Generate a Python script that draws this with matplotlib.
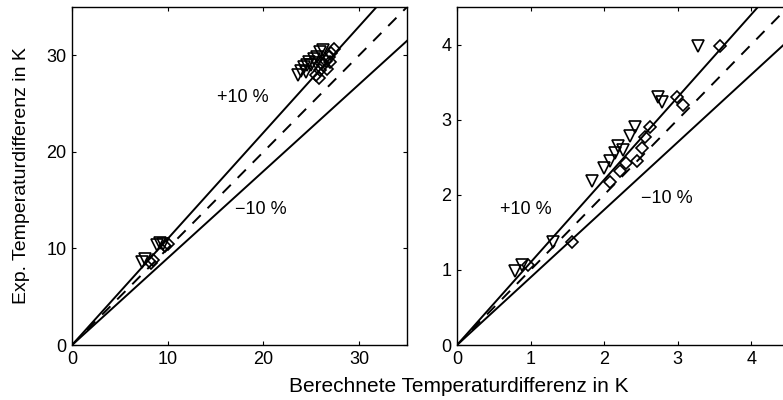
import matplotlib
matplotlib.use("Agg")
import matplotlib.pyplot as plt
import numpy as np

plt.rcParams['font.family'] = ['Liberation Sans', 'DejaVu Sans']

# left panel (large temperature differences)
tri_calc_l = [7.3, 7.6, 8.9, 9.2, 9.5,
              23.6, 23.9, 24.2, 24.4, 24.5, 24.8, 25.0, 25.3, 25.5, 25.6, 25.9, 26.2]
tri_exp_l = [8.6, 8.9, 10.4, 10.6, 10.5,
             28.0, 28.4, 28.8, 28.3, 29.0, 29.3, 29.0, 29.6, 29.2, 29.8, 30.3, 30.5]
dia_calc_l = [8.2, 8.5, 9.7, 10.0,
              25.5, 25.8, 25.9, 26.0, 26.2, 26.5, 26.6, 26.8, 27.0, 27.1, 27.4]
dia_exp_l = [8.5, 8.8, 10.3, 10.5,
             28.0, 27.6, 28.5, 29.2, 29.0, 29.4, 28.6, 29.8, 29.3, 30.2, 30.6]

# right panel (small temperature differences)
tri_calc_r = [0.79, 0.88, 1.31, 1.84, 2.0, 2.08, 2.15, 2.19, 2.25, 2.35, 2.42,
              2.73, 2.79, 3.28]
tri_exp_r = [0.98, 1.07, 1.37, 2.18, 2.35, 2.45, 2.55, 2.65, 2.6, 2.78, 2.9,
             3.3, 3.24, 3.98]
dia_calc_r = [0.97, 1.56, 2.08, 2.22, 2.3, 2.45, 2.52, 2.56, 2.63, 2.99, 3.07, 3.58]
dia_exp_r = [1.07, 1.37, 2.17, 2.32, 2.42, 2.45, 2.62, 2.77, 2.9, 3.3, 3.19, 3.98]

fig = plt.figure(figsize=(7.83, 4.0), dpi=100)
ax1 = fig.add_axes([0.092, 0.1375, 0.4278, 0.845])
ax2 = fig.add_axes([0.5837, 0.1375, 0.4227, 0.845])


def draw(ax, lim, tc, te, dc, de):
    xx = np.array([0, lim * 1.2])
    ax.plot(xx, 1.1 * xx, color='k', lw=1.4)
    ax.plot(xx, 0.9 * xx, color='k', lw=1.4)
    ax.plot(xx, xx, color='k', lw=1.4, ls=(0, (6, 5)))
    ax.plot(tc, te, ls='none', marker='v', ms=9, mfc='none', mec='k', mew=1.2)
    ax.plot(dc, de, ls='none', marker='D', ms=6.5, mfc='none', mec='k', mew=1.2)
    ax.set_xlim(0, lim)
    ax.set_ylim(0, lim)
    ax.tick_params(direction='in', length=3, width=0.8, top=True, right=True,
                   labelsize=13, pad=4)
    for s in ax.spines.values():
        s.set_linewidth(1.0)


draw(ax1, 35, tri_calc_l, tri_exp_l, dia_calc_l, dia_exp_l)
ax1.set_xticks([0, 10, 20, 30])
ax1.set_yticks([0, 10, 20, 30])
ax1.text(15.1, 25.6, '+10 %', fontsize=13, va='center')
ax1.text(17, 14, '\u221210 %', fontsize=13, va='center')
ax1.set_ylabel('Exp. Temperaturdifferenz in K', fontsize=14, labelpad=12)

draw(ax2, 4.5, tri_calc_r, tri_exp_r, dia_calc_r, dia_exp_r)
ax2.set_xticks([0, 1, 2, 3, 4])
ax2.set_yticks([0, 1, 2, 3, 4])
ax2.text(0.59, 1.81, '+10 %', fontsize=13, va='center')
ax2.text(2.5, 1.95, '\u221210 %', fontsize=13, va='center')

fig.text(0.586, 0.0325, 'Berechnete Temperaturdifferenz in K', fontsize=15,
         ha='center', va='center')

fig.savefig('out.png', dpi=100)
